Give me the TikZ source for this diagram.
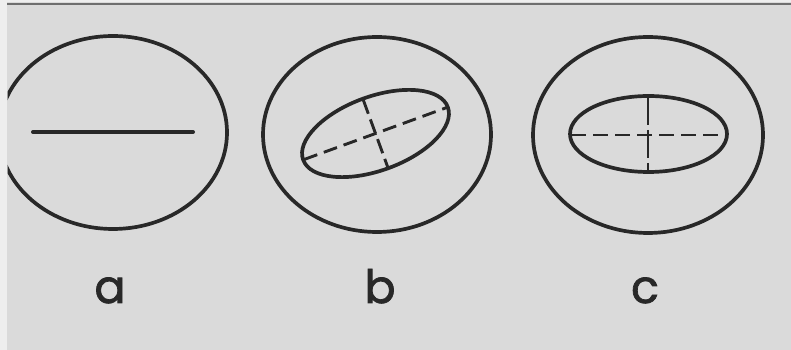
\documentclass[tikz,border=0pt]{standalone}
\usepackage{fontspec}
\newfontfamily\labelfont[FakeBold=1.6]{Poppins}
\definecolor{bg}{RGB}{218,218,218}
\definecolor{strip}{RGB}{238,238,238}
\definecolor{ink}{RGB}{40,40,40}
\definecolor{rule}{RGB}{110,110,110}
\tikzset{
  outline/.style={draw=ink, line width=3.7pt},
  axisdash/.style={draw=ink, line width=2.9pt, dash pattern=on 14pt off 7pt},
  lbl/.style={anchor=base, text=ink, inner sep=0pt, font=\labelfont\fontsize{46}{46}\selectfont}
}
\begin{document}
\begin{tikzpicture}[x=1pt,y=1pt]
\useasboundingbox (0,0) rectangle (791,350);
\fill[bg] (0,0) rectangle (791,350);
\fill[strip] (0,0) rectangle (7,350);
\fill[strip] (7,347.5) rectangle (791,350);
\draw[rule, line width=1.8pt] (7,346.3) -- (791,346.3);

% (a)
\begin{scope}
  \clip (7.5,0) rectangle (791,345);
  \draw[outline] (113,217.5) ellipse [x radius=114, y radius=96.5];
\end{scope}
\coordinate (aL) at (33,218);
\coordinate (aR) at (193,218);
\draw[outline, line width=4pt, line cap=round] (aL) -- (aR);

% (b)
\draw[outline] (377,215.5) ellipse [x radius=114, y radius=97.5];
\begin{scope}[shift={(375.5,216.5)}, rotate=20]
  \draw[outline] (0,0) ellipse [x radius=77, y radius=37];
  \coordinate (bM1) at (-76,0);
  \coordinate (bM2) at (76,0);
  \coordinate (bm1) at (0,-36);
  \coordinate (bm2) at (0,36);
  \draw[axisdash] (bM1) -- (bM2);
  \draw[axisdash, dash pattern=on 15pt off 6pt] (bm2) -- (bm1);
\end{scope}

% (c)
\draw[outline] (648,215) ellipse [x radius=115, y radius=98];
\draw[outline] (648.5,216) ellipse [x radius=78.5, y radius=38];
\coordinate (cH1) at (571,215);
\coordinate (cH2) at (726,215);
\coordinate (cV1) at (648,253);
\coordinate (cV2) at (648,179);
\draw[axisdash, dash pattern=on 15pt off 7pt] (cH1) -- (cH2);
\draw[axisdash, dash pattern=on 28pt off 5pt] (cV1) -- (cV2);

% labels
\node[lbl] (la) at (110,47) {a};
\node[lbl] (lb) at (380,47) {b};
\node[lbl] (lc) at (645,47) {c};
\end{tikzpicture}
\end{document}
